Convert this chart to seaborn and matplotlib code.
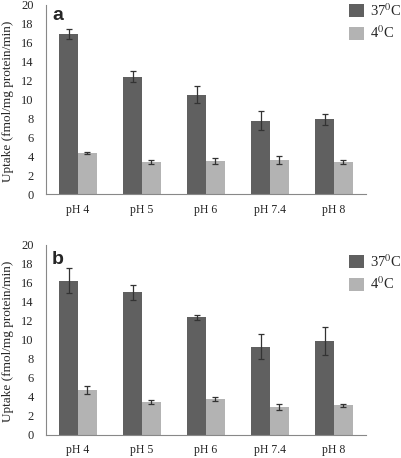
import numpy as np
import pandas as pd
import seaborn as sns
import matplotlib
matplotlib.use("Agg")
import matplotlib.pyplot as plt

# ---- data ----
ph_labels = ["pH 4", "pH 5", "pH 6", "pH 7.4", "pH 8"]
temps = ["37$^{0}$C", "4$^{0}$C"]

a_37 = [16.9, 12.4, 10.5, 7.75, 7.9]
a_37_err = [0.55, 0.6, 0.9, 1.0, 0.55]
a_4 = [4.35, 3.45, 3.5, 3.6, 3.37]
a_4_err = [0.15, 0.22, 0.28, 0.4, 0.22]

b_37 = [16.2, 15.0, 12.35, 9.25, 9.85]
b_37_err = [1.3, 0.8, 0.3, 1.3, 1.5]
b_4 = [4.7, 3.45, 3.75, 2.9, 3.1]
b_4_err = [0.4, 0.25, 0.22, 0.28, 0.15]

colors = {temps[0]: "#606060", temps[1]: "#b3b3b3"}

sns.set_style("white")
plt.rcParams["font.family"] = ["Liberation Serif", "DejaVu Serif"]
plt.rcParams["mathtext.fontset"] = "stix"

W, H = 401, 458
fig = plt.figure(figsize=(W / 100, H / 100), dpi=100)


def panel(top_px, bottom_px, v37, e37, v4, e4, letter, leg_top_px, letter_base_px):
    ax = fig.add_axes([46 / W, 1 - bottom_px / H, 320 / W, (bottom_px - top_px) / H])
    df = pd.DataFrame({
        "pH": ph_labels * 2,
        "temp": [temps[0]] * 5 + [temps[1]] * 5,
        "uptake": v37 + v4,
        "err": e37 + e4,
    })
    sns.barplot(data=df, x="pH", y="uptake", hue="temp", order=ph_labels,
                hue_order=temps, palette=colors, width=0.58, errorbar=None,
                saturation=1, linewidth=0, ax=ax)
    # error bars at the bar centres
    bars = [p for p in ax.patches if p.get_height() > 0]
    errs = e37 + e4
    for p, e in zip(bars, errs):
        xc = p.get_x() + p.get_width() / 2
        ax.errorbar(xc, p.get_height(), yerr=e, fmt="none", ecolor="#333333",
                    elinewidth=0.9, capsize=2.5, capthick=0.9)

    ax.set_ylim(0, 20)
    ax.set_yticks(np.arange(0, 21, 2))
    ax.set_xlim(-0.5, 4.5)
    ax.set_xticks(np.arange(-0.5, 4.6, 1))
    ax.set_xticklabels([])
    ax.set_xticks(range(5), minor=True)
    ax.set_xticklabels(ph_labels, minor=True)
    ax.tick_params(axis="x", which="major", length=4, width=0.8, color="#888888", direction="out")
    ax.tick_params(axis="x", which="minor", length=0, pad=7, labelsize=8.5)
    ax.tick_params(axis="y", length=3, width=0.8, color="#888888", direction="out",
                   pad=6, labelsize=9)
    for s in ["top", "right"]:
        ax.spines[s].set_visible(False)
    for s in ["left", "bottom"]:
        ax.spines[s].set_color("#888888")
        ax.spines[s].set_linewidth(0.8)
    ax.set_xlabel("")
    ax.set_ylabel("Uptake (fmol/mg protein/min)", fontsize=9.5, va="center")
    ax.yaxis.set_label_coords(-38 / 320, 0.49)

    h, l = ax.get_legend_handles_labels()
    ax.legend(h, l, loc="upper left", bbox_to_anchor=(349 / W, 1 - leg_top_px / H),
              bbox_transform=fig.transFigure, frameon=False, fontsize=10.5,
              handlelength=1.0, handleheight=1.0, handletextpad=0.45,
              labelspacing=0.4, borderpad=0, borderaxespad=0)

    fig.text(52 / W, 1 - letter_base_px / H, letter, family=["Liberation Sans", "DejaVu Sans"],
             fontweight="bold", fontsize=14, va="baseline", ha="left")
    return ax


panel(4.7, 194.3, a_37, a_37_err, a_4, a_4_err, "a", 2, 20)
panel(244.7, 434.7, b_37, b_37_err, b_4, b_4_err, "b", 253, 264)

fig.savefig("out.png", dpi=100)
